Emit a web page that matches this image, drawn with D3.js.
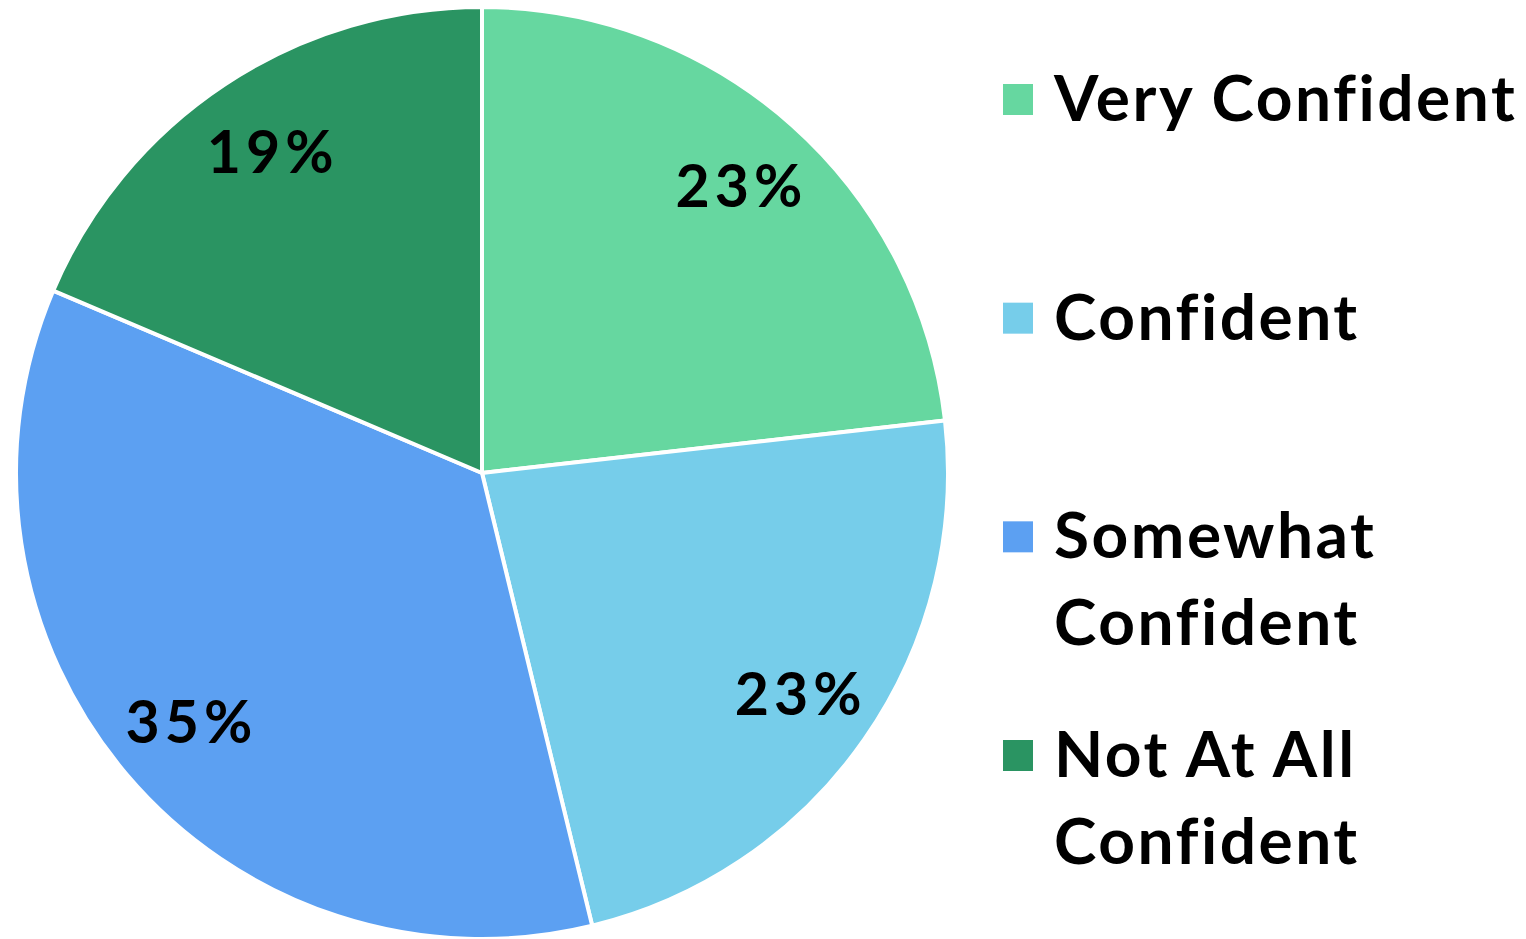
<!DOCTYPE html>
<html>
<head>
<meta charset="utf-8">
<script src="https://cdn.jsdelivr.net/npm/d3@7"></script>
<style>
  body { margin: 0; background: #fff; }
  text { font-family: "Century Gothic", Lato, "DejaVu Sans", sans-serif; font-weight: 700; fill: #000; }
</style>
</head>
<body>
<div id="chart"></div>
<script>
(function() {
  'use strict'

  // Data //
  var categories = ["Very Confident", "Confident", "Somewhat Confident", "Not At All Confident"]
  var legendLines = [["Very Confident"], ["Confident"], ["Somewhat", "Confident"], ["Not At All", "Confident"]]
  var values = [23.2, 23.0, 35.2, 18.6]
  var labels = ["23%", "23%", "35%", "19%"]
  var colors = ["#66d7a0", "#76cdea", "#5ca0f2", "#2a9462"]

  // SVG Setup //
  var width = 1526,
    height = 939,
    cx = 482,
    cy = 473,
    r = 466

  var svg = d3.select("#chart").append("svg")
    .attr("width", width)
    .attr("height", height)

  var color = d3.scaleOrdinal()
    .domain(categories)
    .range(colors)

  var pie = d3.pie()
    .sort(null)
    .value(function(d, i) { return values[i] })

  var arcs = pie(categories)

  var arc = d3.arc().innerRadius(0).outerRadius(r)
  var labelArc = d3.arc().innerRadius(385).outerRadius(385)

  var g = svg.append("g")
    .attr("transform", "translate(" + cx + "," + cy + ")")

  g.selectAll("path")
    .data(arcs)
    .enter().append("path")
    .attr("d", arc)
    .attr("fill", function(d) { return color(d.data) })
    .attr("stroke", "#fff")
    .attr("stroke-width", 4)
    .attr("stroke-linejoin", "round")

  g.selectAll(".lbl")
    .data(arcs)
    .enter().append("text")
    .attr("class", "lbl")
    .attr("transform", function(d) { return "translate(" + labelArc.centroid(d) + ")" })
    .attr("text-anchor", "middle")
    .attr("dy", "0.36em")
    .attr("dx", 3)
    .style("font-size", "59px")
    .style("letter-spacing", "5px")
    .text(function(d, i) { return labels[i] })

  // Legend //
  var legendY = d3.scalePoint()
    .domain(categories)
    .range([99, 755])

  var lineH = 87

  var leg = svg.selectAll(".leg")
    .data(categories)
    .enter().append("g")
    .attr("class", "leg")
    .attr("transform", function(d) { return "translate(1003," + legendY(d) + ")" })

  leg.append("rect")
    .attr("x", 0)
    .attr("y", -15)
    .attr("width", 30)
    .attr("height", 31)
    .attr("fill", function(d) { return color(d) })

  leg.append("text")
    .attr("x", 51)
    .attr("y", 22)
    .style("font-size", "64px")
    .style("letter-spacing", "2.5px")
    .selectAll("tspan")
    .data(function(d, i) { return legendLines[i] })
    .enter().append("tspan")
    .attr("x", 51)
    .attr("dy", function(d, i) { return i === 0 ? 0 : lineH })
    .text(function(d) { return d })
})()
</script>
</body>
</html>
